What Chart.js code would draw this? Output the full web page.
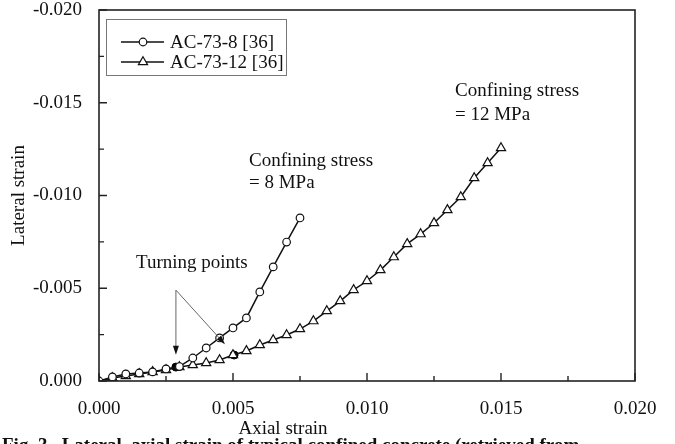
<!DOCTYPE html>
<html>
<head>
<meta charset="utf-8">
<script src="https://cdn.jsdelivr.net/npm/chart.js@4.4.1/dist/chart.umd.min.js"></script>
<style>
  html, body { margin: 0; padding: 0; background: #fff; }
  #wrap { width: 675px; height: 444px; position: relative; }
</style>
</head>
<body>
<div id="wrap"><canvas id="chart"></canvas></div>
<script>
// AC-73-8 (circles)
const axial8 = [0, 0.0005, 0.001, 0.0015, 0.002, 0.0025, 0.003, 0.0035, 0.004, 0.0045, 0.005, 0.0055, 0.006, 0.0065, 0.007, 0.0075];
const lateral8 = [0, -0.00022, -0.00038, -0.00043, -0.00049, -0.00065, -0.00078, -0.00124, -0.00178, -0.00232, -0.00286, -0.0034, -0.0048, -0.00615, -0.00749, -0.00879];

// AC-73-12 (triangles)
const axial12 = [0, 0.0005, 0.001, 0.0015, 0.002, 0.0025, 0.003, 0.0035, 0.004, 0.0045, 0.005, 0.0055, 0.006, 0.0065, 0.007, 0.0075,
                 0.008, 0.0085, 0.009, 0.0095, 0.01, 0.0105, 0.011, 0.0115, 0.012, 0.0125, 0.013, 0.0135, 0.014, 0.0145, 0.015];
const lateral12 = [0, -0.00016, -0.00027, -0.00038, -0.00049, -0.00059, -0.00075, -0.00086, -0.00097, -0.00113, -0.0014, -0.00162, -0.00194, -0.00221, -0.00248, -0.0028,
                   -0.00323, -0.00377, -0.00431, -0.00491, -0.00539, -0.00598, -0.00668, -0.00739, -0.00792, -0.00852, -0.00922, -0.00992, -0.01094, -0.01175, -0.01256];

// turning points (filled dots)
const turnX = [0.00287, 0.00504];
const turnY = [-0.00075, -0.0014];

// arrows: common start and two tips, in data units
const arrowFrom = [0.00287, -0.0049];
const arrowTo = [[0.00287, -0.00142], [0.0047, -0.00198]];

const seriesNames = ['AC-73-8 [36]', 'AC-73-12 [36]'];
const xTickLabels = ['0.000', '0.005', '0.010', '0.015', '0.020'];

const FONT = "'Liberation Serif', 'DejaVu Serif', serif";

function toPoints(xs, ys) {
    return xs.map((x, i) => ({ x: x, y: ys[i] }));
}

// Frame, inward ticks, legend, notes, arrows
const decorations = {
    id: 'decorations',
    afterDraw(chart) {
        const ctx = chart.ctx;
        const a = chart.chartArea;
        const xs = chart.scales.x;
        const ys = chart.scales.y;
        ctx.save();

        // frame
        ctx.strokeStyle = '#222';
        ctx.lineWidth = 1.6;
        ctx.strokeRect(a.left, a.top, a.right - a.left, a.bottom - a.top);

        // inward ticks
        ctx.lineWidth = 1.4;
        ctx.beginPath();
        xs.ticks.forEach((t, i) => {
            const px = xs.getPixelForValue(t.value);
            const len = (i % 2 === 0) ? 8 : 5;
            ctx.moveTo(px, a.bottom);
            ctx.lineTo(px, a.bottom - len);
        });
        ys.ticks.forEach((t) => {
            const py = ys.getPixelForValue(t.value);
            const len = (Math.round(Math.abs(t.value) / 0.0025) % 2 === 0) ? 8 : 5;
            ctx.moveTo(a.left, py);
            ctx.lineTo(a.left + len, py);
        });
        ctx.stroke();

        // arrows
        const fx = xs.getPixelForValue(arrowFrom[0]);
        const fy = ys.getPixelForValue(arrowFrom[1]);
        arrowTo.forEach(p => {
            const tx = xs.getPixelForValue(p[0]);
            const ty = ys.getPixelForValue(p[1]);
            const ang = Math.atan2(ty - fy, tx - fx);
            ctx.strokeStyle = '#666';
            ctx.lineWidth = 1;
            ctx.beginPath();
            ctx.moveTo(fx, fy);
            ctx.lineTo(tx - 6 * Math.cos(ang), ty - 6 * Math.sin(ang));
            ctx.stroke();
            ctx.fillStyle = '#111';
            ctx.beginPath();
            ctx.moveTo(tx, ty);
            ctx.lineTo(tx - 9 * Math.cos(ang) + 3 * Math.sin(ang), ty - 9 * Math.sin(ang) - 3 * Math.cos(ang));
            ctx.lineTo(tx - 9 * Math.cos(ang) - 3 * Math.sin(ang), ty - 9 * Math.sin(ang) + 3 * Math.cos(ang));
            ctx.closePath();
            ctx.fill();
        });

        // text notes
        ctx.fillStyle = '#111';
        ctx.font = '19px ' + FONT;
        ctx.textAlign = 'left';
        ctx.textBaseline = 'middle';
        ctx.fillText('Confining stress', 249, 161);
        ctx.fillText('= 8 MPa', 249, 183);
        ctx.fillText('Confining stress', 455, 91);
        ctx.fillText('= 12 MPa', 455, 115);
        ctx.fillText('Turning points', 136, 263);

        // legend
        ctx.strokeStyle = '#777';
        ctx.lineWidth = 1;
        ctx.strokeRect(106.5, 19.5, 180, 56);
        const rows = [42, 62];
        rows.forEach((ry, i) => {
            const ds = chart.data.datasets[i];
            ctx.strokeStyle = '#111';
            ctx.lineWidth = 1.5;
            ctx.beginPath();
            ctx.moveTo(121, ry);
            ctx.lineTo(164, ry);
            ctx.stroke();
            ctx.fillStyle = '#fff';
            ctx.strokeStyle = '#111';
            ctx.lineWidth = ds.pointBorderWidth;
            Chart.helpers.drawPoint(ctx, {
                pointStyle: ds.pointStyle,
                radius: ds.pointRadius,
                borderWidth: ds.pointBorderWidth,
                rotation: 0
            }, 143, ry);
            ctx.fillStyle = '#111';
            ctx.fillText(seriesNames[i], 170, ry + 1);
        });

        // x axis title, placed left of centre as in the source
        ctx.textAlign = 'center';
        ctx.fillText('Axial strain', 283, 429);

        // caption (cut by the bottom edge)
        ctx.textAlign = 'left';
        ctx.textBaseline = 'alphabetic';
        ctx.font = 'bold 19px ' + FONT;
        ctx.fillText('Fig. 3.  Lateral\u2013axial strain of typical confined concrete (retrieved from', 2, 451);

        ctx.restore();
    }
};

new Chart(document.getElementById('chart'), {
    type: 'scatter',
    data: {
        datasets: [{
            label: seriesNames[0],
            data: toPoints(axial8, lateral8),
            showLine: true,
            borderColor: '#111',
            borderWidth: 1.5,
            pointStyle: 'circle',
            pointRadius: 3.8,
            pointBorderWidth: 1.2,
            pointBackgroundColor: '#fff',
            pointBorderColor: '#111'
        }, {
            label: seriesNames[1],
            data: toPoints(axial12, lateral12),
            showLine: true,
            borderColor: '#111',
            borderWidth: 1.5,
            pointStyle: 'triangle',
            pointRadius: 5.3,
            pointBorderWidth: 1.2,
            pointBackgroundColor: '#fff',
            pointBorderColor: '#111'
        }, {
            label: 'Turning points',
            data: toPoints(turnX, turnY),
            showLine: false,
            pointStyle: 'circle',
            pointRadius: 4,
            pointBackgroundColor: '#000',
            pointBorderColor: '#000'
        }]
    },
    options: {
        responsive: true,
        maintainAspectRatio: false,
        animation: false,
        layout: { padding: { left: 0, right: 40, top: 0, bottom: 0 } },
        plugins: {
            legend: { display: false },
            tooltip: { enabled: false }
        },
        scales: {
            x: {
                type: 'linear',
                min: 0,
                max: 0.02,
                grid: { display: false },
                border: { display: false },
                ticks: {
                    stepSize: 0.0025,
                    autoSkip: false,
                    maxRotation: 0,
                    padding: 9,
                    color: '#111',
                    font: { family: FONT, size: 19 },
                    callback: (v) => {
                        const k = Math.round(v / 0.0025);
                        return k % 2 === 0 ? xTickLabels[k / 2] : '';
                    }
                },
                afterFit: (s) => { s.height = 63; }
            },
            y: {
                type: 'linear',
                min: -0.02,
                max: 0,
                reverse: true,
                grid: { display: false },
                border: { display: false },
                title: {
                    display: true,
                    text: 'Lateral strain',
                    color: '#111',
                    font: { family: FONT, size: 19 },
                    padding: { top: 8, bottom: 0 }
                },
                ticks: {
                    stepSize: 0.0025,
                    autoSkip: false,
                    padding: 9,
                    color: '#111',
                    font: { family: FONT, size: 19 },
                    callback: (v) => {
                        const k = Math.round(Math.abs(v) / 0.0025);
                        if (k % 2 !== 0) return '';
                        return Math.abs(v) < 1e-9 ? '0.000' : v.toFixed(3);
                    }
                },
                afterFit: (s) => {
                    s.width = 99;
                    s.paddingTop = 10;
                }
            }
        }
    },
    plugins: [decorations]
});
</script>
</body>
</html>
